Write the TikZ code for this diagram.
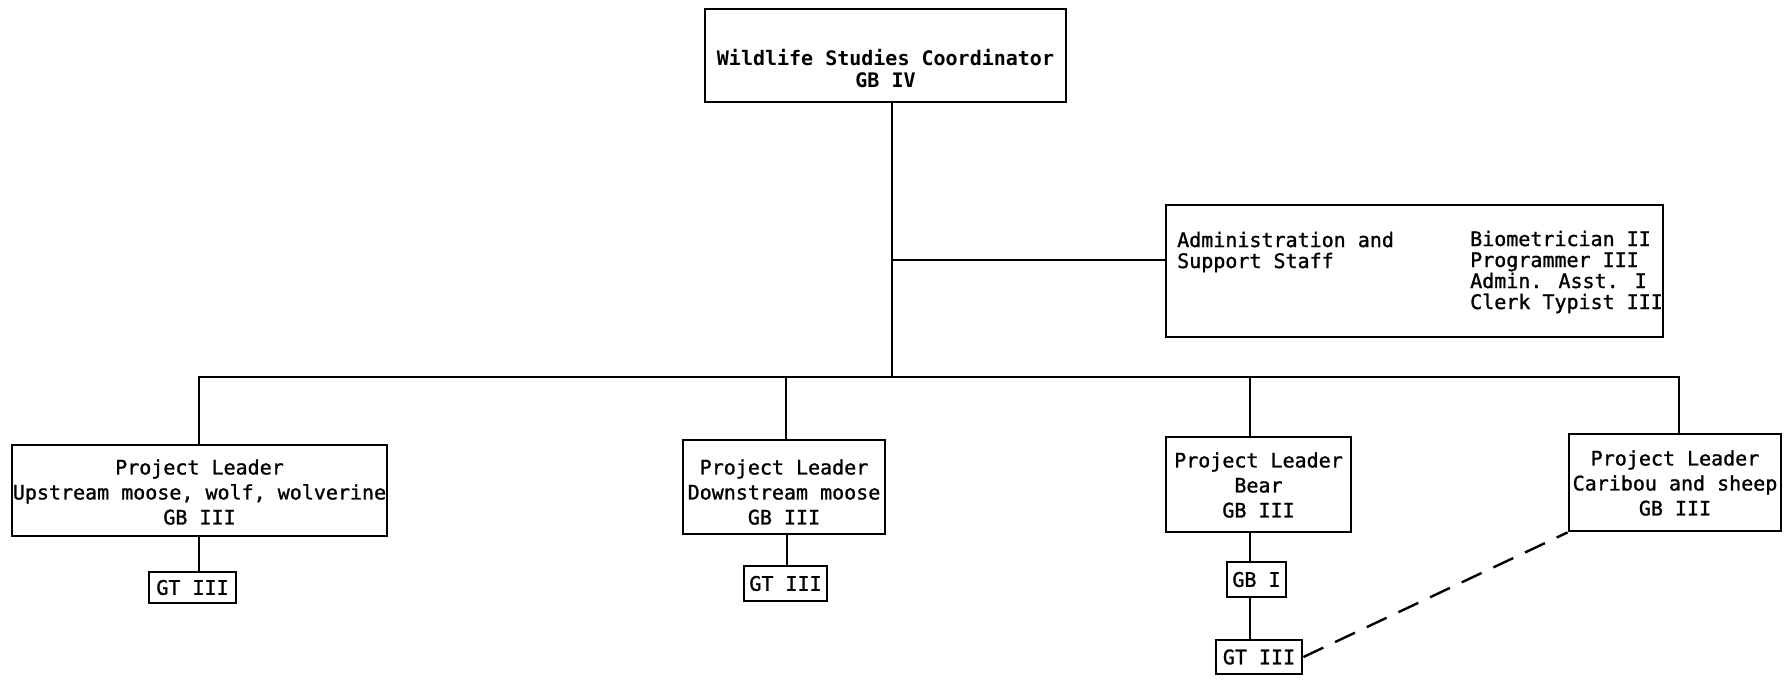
\documentclass[tikz,border=0pt]{standalone}
\usepackage{fontspec}
\newfontfamily\orgfont[FakeBold=1.2]{DejaVu Sans Mono}
\newfontfamily\orgbold{DejaVu Sans Mono Bold}
\usetikzlibrary{calc}
\tikzset{
  boxn/.style={draw=black, line width=2.8pt, inner sep=0pt, rectangle},
  txt/.style={inner sep=0pt, align=center, font=\orgfont\fontsize{20}{25}\selectfont},
  toptxt/.style={inner sep=0pt, align=center, font=\orgbold\fontsize{20}{22}\selectfont},
  admtxt/.style={inner sep=0pt, align=left, font=\orgfont\fontsize{20}{21}\selectfont},
  conn/.style={draw=black, line width=2.6pt},
  dconn/.style={draw=black, line width=2.4pt, dash pattern=on 22pt off 13pt},
}
\begin{document}
\begin{tikzpicture}[x=1pt, y=-1pt]
\useasboundingbox (0,0) rectangle (1786,682);
% boxes
\node[boxn, minimum width=361pt, minimum height=93pt] (top) at (885.5,55.5) {};
\node[toptxt] (topT) at (885.5,69) {Wildlife Studies Coordinator\\GB IV};

\node[boxn, minimum width=497pt, minimum height=132pt] (adm) at (1414.5,271) {};
\node[admtxt, anchor=west] (admL) at (1177,252) {Administration and\\Support Staff};
\node[admtxt, anchor=west] (admR) at (1470,272) {Biometrician II\\Programmer III\\Admin. Asst. I\\Clerk Typist III};

\node[boxn, minimum width=375pt, minimum height=91pt] (pl1) at (199.5,490.5) {};
\node[txt] (pl1T) at (199.5,492) {Project Leader\\Upstream moose, wolf, wolverine\\GB III};

\node[boxn, minimum width=202pt, minimum height=94pt] (pl2) at (784,487) {};
\node[txt] (pl2T) at (784,492) {Project Leader\\Downstream moose\\GB III};

\node[boxn, minimum width=185pt, minimum height=95pt] (pl3) at (1258.5,484.5) {};
\node[txt] (pl3T) at (1258.5,485) {Project Leader\\Bear\\GB III};

\node[boxn, minimum width=212pt, minimum height=97pt] (pl4) at (1675,482.5) {};
\node[txt] (pl4T) at (1675,483) {Project Leader\\Caribou and sheep\\GB III};

\node[boxn, minimum width=87pt, minimum height=31pt] (gt1) at (192.5,587.5) {};
\node[txt] (gt1T) at (192.5,587.5) {GT III};
\node[boxn, minimum width=83pt, minimum height=35pt] (gt2) at (785.5,583.5) {};
\node[txt] (gt2T) at (785.5,583.5) {GT III};
\node[boxn, minimum width=59pt, minimum height=35pt] (gb1) at (1256.5,579.5) {};
\node[txt] (gb1T) at (1256.5,579.5) {GB I};
\node[boxn, minimum width=86pt, minimum height=34pt] (gt3) at (1259,657) {};
\node[txt] (gt3T) at (1259,657) {GT III};

% junction coordinates
\coordinate (bj) at (892,377);
\coordinate (aj) at (892,260);
\coordinate (d1) at (199,377);
\coordinate (d2) at (786,377);
\coordinate (d3) at (1250,377);
\coordinate (d4) at (1679,377);

% connectors
\draw[conn] (bj |- top.south) -- (bj);
\draw[conn] (aj) -- (aj -| adm.west);
\draw[conn] (d1 |- pl1.north) -- (d1) -- (d4) -- (d4 |- pl4.north);
\draw[conn] (d2) -- (d2 |- pl2.north);
\draw[conn] (d3) -- (d3 |- pl3.north);
\draw[conn] (d1 |- pl1.south) -- (d1 |- gt1.north);
\draw[conn] ($(d2 |- pl2.south)+(1,0)$) -- ($(d2 |- gt2.north)+(1,0)$);
\draw[conn] (d3 |- pl3.south) -- (d3 |- gb1.north);
\draw[conn] (d3 |- gb1.south) -- (d3 |- gt3.north);
\draw[dconn] (gt3.east) -- (pl4.south west);
\end{tikzpicture}
\end{document}
